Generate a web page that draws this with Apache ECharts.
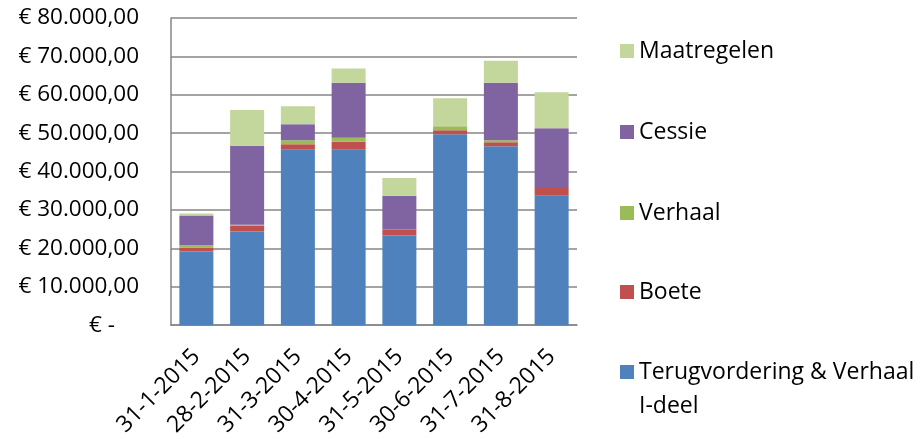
<!DOCTYPE html>
<html>
<head>
<meta charset="utf-8">
<script src="https://cdn.jsdelivr.net/npm/echarts@6/dist/echarts.min.js"></script>
<style>
  html, body { margin: 0; padding: 0; background: #fff; }
  #chart { width: 923px; height: 439px; }
</style>
</head>
<body>
<div id="chart"></div>
<script>
// Monthly totals per category (euro), stacked bottom to top
const categories = ['31-1-2015', '28-2-2015', '31-3-2015', '30-4-2015', '31-5-2015', '30-6-2015', '31-7-2015', '31-8-2015'];
const terugvordering = [19200, 24400, 45670, 45670, 23360, 49740, 46630, 33740];
const boete = [1040, 1550, 1480, 2080, 1550, 1040, 1030, 1990];
const verhaal = [610, 200, 1030, 1040, 0, 1040, 520, 0];
const cessie = [7700, 20550, 4160, 14360, 8830, 0, 14970, 15570];
const maatregelen = [520, 9360, 4670, 3720, 4580, 7260, 5710, 9340];

const seriesNames = ['Terugvordering & Verhaal I-deel', 'Boete', 'Verhaal', 'Cessie', 'Maatregelen'];
const seriesData = [terugvordering, boete, verhaal, cessie, maatregelen];
const colors = ['#4F81BD', '#C0504D', '#9BBB59', '#8064A2', '#C3D69B'];

const FONT = '"Open Sans", sans-serif';
const AXIS_FS = 22.5;
const LEGEND_FS = 23;

function euro(v) {
  if (v === 0) return '{z|€ -}';
  const parts = Math.round(v).toString().replace(/\B(?=(\d{3})+(?!\d))/g, '.');
  return '€ ' + parts + ',00';
}

// legend entries listed top to bottom, each placed at its own height;
// the long last entry wraps, with a blank first line so its icon sits on the first text line
const legendOrder = ['Maatregelen', 'Cessie', 'Verhaal', 'Boete', 'Terugvordering & Verhaal I-deel'];
const legendTops = [34, 115, 196, 275, 321];
const legends = legendOrder.map((name, i) => {
  const last = name.startsWith('Terugvordering');
  return {
    data: [name],
    left: 620,
    top: legendTops[i],
    padding: 0,
    itemWidth: 14,
    itemHeight: 14,
    itemGap: 0,
    selectedMode: false,
    icon: 'rect',
    formatter: last ? ' \nTerugvordering & Verhaal\nI-deel' : '{name}',
    textStyle: {
      fontFamily: FONT,
      fontSize: LEGEND_FS,
      color: '#000',
      lineHeight: 34
    },
    itemStyle: { borderWidth: 0 }
  };
});

const chart = echarts.init(document.getElementById('chart'), null, { renderer: 'canvas' });
chart.setOption({
  animation: false,
  backgroundColor: '#fff',
  color: colors,
  legend: legends,
  grid: { left: 171, right: 346, top: 18, bottom: 112, containLabel: false },
  xAxis: {
    type: 'category',
    data: categories,
    axisLine: { show: true, lineStyle: { color: '#868686', width: 1.5 } },
    axisTick: { show: false },
    axisLabel: {
      rotate: 45,
      interval: 0,
      margin: 28,
      fontFamily: FONT,
      fontSize: 23,
      color: '#000'
    }
  },
  yAxis: {
    type: 'value',
    min: 0,
    max: 80000,
    interval: 10000,
    axisLine: { show: true, lineStyle: { color: '#868686', width: 1.5 } },
    axisTick: { show: false },
    splitLine: { show: true, lineStyle: { color: '#868686', width: 1.5 } },
    axisLabel: {
      margin: 32,
      fontFamily: FONT,
      fontSize: AXIS_FS,
      color: '#000',
      formatter: euro,
      rich: { z: { fontFamily: FONT, fontSize: AXIS_FS, color: '#000', padding: [0, 24, 0, 0] } }
    }
  },
  series: seriesNames.map((name, i) => ({
    name: name,
    type: 'bar',
    stack: 'total',
    barCategoryGap: '33%',
    data: seriesData[i],
    itemStyle: { color: colors[i] }
  }))
});
</script>
</body>
</html>
